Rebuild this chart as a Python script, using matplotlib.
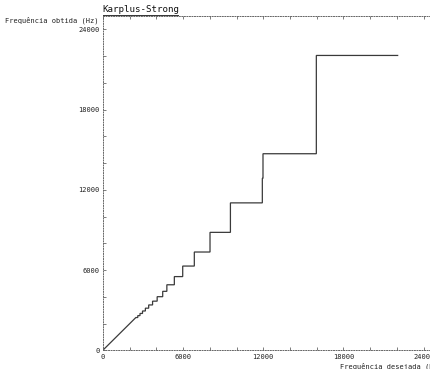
import matplotlib
matplotlib.use("Agg")
import matplotlib.pyplot as plt
from matplotlib.lines import Line2D

# Data: desired frequency where each obtained level starts, and obtained level (Hz)
desired_start = [2471, 2617, 2782, 2970, 3184, 3431, 3722, 4065, 4480, 4790,
                 5350, 5976, 6844, 8018, 9544, 11930, 11980, 15969, 22050]
obtained = [2450, 2594, 2756, 2940, 3150, 3392, 3675, 4009, 4410, 4900,
            5512, 6300, 7350, 8820, 11025, 12860, 14700, 22050, 22050]
tick_values = [0, 6000, 12000, 18000, 24000]
tick_labels = ["0", "6000", "12000", "18000", "24000"]

title = "Karplus-Strong"
xlabel = "Frequência desejada (Hz)"
ylabel = "Frequência obtida (Hz)"

# build step path (starts from origin with a diagonal)
xs, ys = [0], [0]
for i, (x, y) in enumerate(zip(desired_start, obtained)):
    if i > 0:
        xs.append(x)
        ys.append(obtained[i - 1])
    xs.append(x)
    ys.append(y)

W, H = 431, 369
fig = plt.figure(figsize=(W / 100, H / 100), dpi=100)
left_px, right_px = 102.8, 102.8 + 334.3
top_px, bottom_px = 16.0, 350.3
ax = fig.add_axes([left_px / W, 1 - bottom_px / H,
                   (right_px - left_px) / W, (bottom_px - top_px) / H])

ax.plot(xs, ys, color="#3a3a3a", lw=0.9, solid_joinstyle="miter")

ax.set_xlim(0, 25000)
ax.set_ylim(0, 25000)

mono = "DejaVu Sans Mono"
ax.set_xticks(tick_values)
ax.set_xticklabels(tick_labels, fontsize=5, family=mono, color="#222222")
ax.set_yticks(tick_values)
ax.set_yticklabels(tick_labels, fontsize=5, family=mono, color="#222222")
ax.set_xticks(range(0, 25000, 2000), minor=True)
ax.set_yticks(range(0, 25000, 2000), minor=True)
ax.tick_params(which="both", direction="in", length=2.5, width=0.6,
               color="#666666", top=True, right=False, pad=2.5)
ax.tick_params(axis="x", which="major", pad=3)

for s in ["left", "top", "bottom"]:
    ax.spines[s].set_linestyle((0, (1, 1.6)))
    ax.spines[s].set_linewidth(0.7)
    ax.spines[s].set_color("#666666")
ax.spines["right"].set_visible(False)

# title with underline
fig.text(left_px / W, 1 - 9.5 / H, title, family=mono, fontsize=6.6,
         ha="left", va="center", color="#111111")
fig.add_artist(Line2D([left_px / W, 178 / W], [1 - 15.3 / H, 1 - 15.3 / H],
                      color="#333333", lw=0.7))

# axis labels
fig.text(99 / W, 1 - 20 / H, ylabel, family=mono, fontsize=5,
         ha="right", va="center", color="#222222")
fig.text(340 / W, 1 - 366 / H, xlabel, family=mono, fontsize=5,
         ha="left", va="center", color="#222222")

fig.savefig("out.png", dpi=100)
